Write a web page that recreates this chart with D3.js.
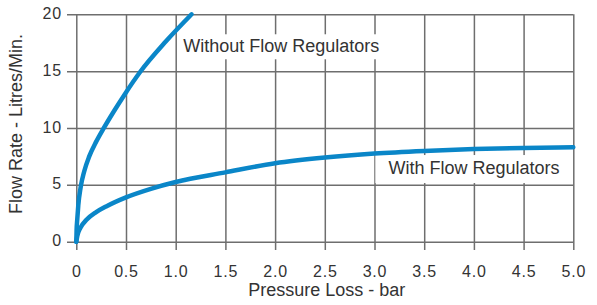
<!DOCTYPE html>
<html>
<head>
<meta charset="utf-8">
<script src="https://cdn.jsdelivr.net/npm/d3@7"></script>
<style>
    body { margin: 0; background: #fff; }
    text { font-family: "Liberation Sans", Arial, sans-serif; fill: #333; }
    .tick text { font-size: 16px; letter-spacing: 0.8px; }
    .tick line { stroke: #6e6e6e; stroke-width: 1.5; }
    .axis-title { font-size: 18px; }
    .note { font-size: 18px; }
    .curve { fill: none; stroke: #0a86c8; stroke-width: 4.5; stroke-linecap: round; }
</style>
</head>
<body>
<div id="chart"></div>
<script>
// Flow rate (Litres/Min.) against pressure loss (bar)
const withoutPressure = [0, 0.003, 0.01, 0.02, 0.044, 0.08, 0.13, 0.2, 0.27, 0.38, 0.49, 0.64, 0.9, 1.16];
const withoutFlow     = [0, 1.0, 2.0, 3.2, 4.8, 6.2, 7.5, 8.8, 9.9, 11.5, 13.0, 14.9, 17.6, 20.0];

const withPressure = [0, 0.01, 0.04, 0.1, 0.2, 0.3, 0.5, 0.75, 1.0, 1.5, 2.0, 2.5, 3.0, 3.5, 4.0, 4.5, 5.0];
const withFlow     = [0, 0.5, 1.2, 1.9, 2.6, 3.1, 3.9, 4.65, 5.25, 6.1, 6.9, 7.4, 7.75, 7.98, 8.15, 8.25, 8.3];

const xTicks = [0, 0.5, 1, 1.5, 2, 2.5, 3, 3.5, 4, 4.5, 5];
const xTickLabels = ["0", "0.5", "1.0", "1.5", "2.0", "2.5", "3.0", "3.5", "4.0", "4.5", "5.0"];
const yTicks = [0, 5, 10, 15, 20];

const width = 597;
const height = 305;
const margin = {top: 14.3, right: 23.7, bottom: 63.3, left: 76.3};
const innerWidth = width - margin.left - margin.right;
const innerHeight = height - margin.top - margin.bottom;

const svg = d3.select("#chart")
    .append("svg")
    .attr("width", width)
    .attr("height", height);

const xScale = d3.scaleLinear().domain([0, 5]).range([margin.left, width - margin.right]);
const yScale = d3.scaleLinear().domain([0, 20]).range([height - margin.bottom, margin.top]);

// Grid lines are the axis ticks stretched across the plot
const xAxis = svg.append("g")
    .attr("transform", `translate(0, ${margin.top})`)
    .call(d3.axisBottom(xScale)
        .tickValues(xTicks)
        .tickFormat((d, i) => xTickLabels[i])
        .tickSize(innerHeight + 8.3)
        .tickPadding(16));
xAxis.select(".domain").remove();

const yAxis = svg.append("g")
    .attr("transform", `translate(${width - margin.right}, 0)`)
    .call(d3.axisLeft(yScale)
        .tickValues(yTicks)
        .tickSize(innerWidth + 9.3)
        .tickPadding(5));
yAxis.select(".domain").remove();
yAxis.selectAll("text").attr("dy", "0.25em");

// Axis titles
svg.append("text")
    .attr("class", "axis-title")
    .attr("x", (xScale(0) + xScale(5)) / 2 + 2)
    .attr("y", 296)
    .attr("text-anchor", "middle")
    .text("Pressure Loss - bar");

svg.append("text")
    .attr("class", "axis-title")
    .attr("transform", `translate(22, ${(yScale(0) + yScale(20)) / 2 - 4}) rotate(-90)`)
    .attr("text-anchor", "middle")
    .text("Flow Rate - Litres/Min.");

// Curve labels with white boxes over the grid
function addNote(label, px, fy, pad) {
    const g = svg.append("g");
    const rect = g.append("rect").attr("fill", "#fff");
    const t = g.append("text")
        .attr("class", "note")
        .attr("x", xScale(px))
        .attr("y", yScale(fy))
        .text(label);
    const b = t.node().getBBox();
    rect.attr("x", b.x - pad[3])
        .attr("y", b.y - pad[0])
        .attr("width", b.width + pad[1] + pad[3])
        .attr("height", b.height + pad[0] + pad[2]);
}
addNote("Without Flow Regulators", 1.076, 16.66, [2, 2, 3, 3]);
addNote("With Flow Regulators", 3.14, 5.95, [3, 10, 5, 13]);

// Curves
const line = d3.line()
    .x(d => xScale(d[0]))
    .y(d => yScale(d[1]))
    .curve(d3.curveMonotoneX);

svg.append("path")
    .attr("class", "curve")
    .attr("d", line(d3.zip(withoutPressure, withoutFlow)));

svg.append("path")
    .attr("class", "curve")
    .attr("d", line(d3.zip(withPressure, withFlow)));
</script>
</body>
</html>
